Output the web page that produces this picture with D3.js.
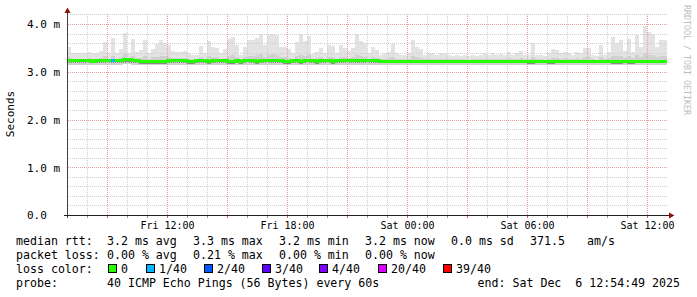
<!DOCTYPE html>
<html>
<head>
<meta charset="utf-8">
<script src="https://cdn.jsdelivr.net/npm/d3@7"></script>
<style>
  html, body { margin: 0; padding: 0; background: #fff; }
  svg { display: block; }
  text { font-family: "DejaVu Sans Mono", monospace; fill: #000; }
</style>
</head>
<body>
<div id="chart"></div>
<script>
// 30 hours of pings, consolidated into 12 minute bins (values in ms)
var startTime = new Date(2025, 11, 5, 7, 0);
var endTime = new Date(2025, 11, 6, 13, 0);
var binMinutes = 12;

var smokeMax = [
  3.52,3.39,3.40,3.40,3.40,3.42,3.39,3.39,3.44,3.62,
  3.39,3.71,3.39,3.47,3.82,3.39,3.69,3.41,3.46,3.67,
  3.39,3.47,3.58,3.67,3.60,3.55,3.44,3.41,3.41,3.43,
  3.39,3.36,3.36,3.54,3.40,3.65,3.52,3.50,3.39,3.48,
  3.68,3.72,3.55,3.36,3.52,3.67,3.67,3.71,3.80,3.55,
  3.78,3.80,3.76,3.52,3.52,3.47,3.39,3.62,3.80,3.64,
  3.75,3.37,3.41,3.50,3.39,3.55,3.54,3.39,3.55,3.50,
  3.44,3.50,3.79,3.64,3.60,3.39,3.52,3.46,3.36,3.39,
  3.41,3.58,3.39,3.36,3.36,3.39,3.67,3.52,3.48,3.36,
  3.39,3.39,3.36,3.39,3.39,3.36,3.34,3.36,3.34,3.36,
  3.33,3.36,3.34,3.36,3.39,3.36,3.39,3.36,3.37,3.36,
  3.41,3.36,3.39,3.43,3.36,3.36,3.60,3.36,3.36,3.33,
  3.39,3.47,3.46,3.39,3.41,3.39,3.36,3.41,3.39,3.50,
  3.50,3.36,3.33,3.55,3.36,3.41,3.72,3.60,3.67,3.43,
  3.69,3.41,3.76,3.52,3.96,3.83,3.80,3.51,3.67,3.67
];

var smokeHi = [
  3.30,3.27,3.27,3.27,3.27,3.28,3.27,3.27,3.29,3.32,
  3.27,3.33,3.27,3.30,3.38,3.27,3.33,3.28,3.29,3.33,
  3.27,3.30,3.31,3.33,3.32,3.31,3.29,3.28,3.28,3.28,
  3.27,3.26,3.26,3.30,3.27,3.33,3.30,3.30,3.27,3.29,
  3.33,3.35,3.31,3.26,3.30,3.34,3.33,3.35,3.37,3.31,
  3.36,3.37,3.35,3.30,3.30,3.29,3.27,3.32,3.36,3.33,
  3.35,3.27,3.28,3.30,3.27,3.31,3.30,3.27,3.31,3.30,
  3.28,3.30,3.35,3.32,3.31,3.27,3.30,3.28,3.26,3.27,
  3.28,3.31,3.27,3.26,3.26,3.27,3.32,3.30,3.29,3.26,
  3.27,3.27,3.26,3.27,3.27,3.26,3.26,3.26,3.26,3.26,
  3.25,3.26,3.26,3.26,3.27,3.26,3.27,3.26,3.27,3.26,
  3.28,3.26,3.27,3.28,3.26,3.26,3.31,3.26,3.26,3.25,
  3.27,3.29,3.29,3.27,3.28,3.27,3.26,3.28,3.27,3.30,
  3.30,3.26,3.25,3.31,3.26,3.28,3.34,3.32,3.33,3.28,
  3.33,3.28,3.35,3.30,3.38,3.36,3.35,3.30,3.33,3.33
];

var median = [
  3.23,3.23,3.23,3.23,3.23,3.23,3.22,3.23,3.23,3.23,
  3.23,3.23,3.23,3.23,3.25,3.25,3.23,3.23,3.21,3.21,
  3.21,3.21,3.21,3.21,3.21,3.23,3.23,3.23,3.23,3.23,
  3.21,3.21,3.23,3.23,3.23,3.21,3.23,3.23,3.23,3.23,
  3.21,3.21,3.23,3.21,3.23,3.23,3.23,3.21,3.23,3.23,
  3.23,3.23,3.23,3.23,3.21,3.21,3.23,3.23,3.21,3.23,
  3.23,3.23,3.21,3.23,3.23,3.23,3.21,3.23,3.23,3.23,
  3.23,3.23,3.23,3.23,3.23,3.23,3.23,3.23,3.22,3.22,
  3.22,3.22,3.22,3.22,3.22,3.22,3.22,3.22,3.22,3.22,
  3.22,3.22,3.22,3.22,3.22,3.22,3.22,3.22,3.22,3.22,
  3.22,3.22,3.22,3.22,3.22,3.22,3.22,3.22,3.22,3.22,
  3.22,3.22,3.22,3.22,3.22,3.21,3.21,3.22,3.22,3.22,
  3.21,3.21,3.22,3.22,3.22,3.22,3.22,3.22,3.22,3.22,
  3.22,3.22,3.22,3.22,3.22,3.22,3.21,3.21,3.21,3.22,
  3.21,3.21,3.22,3.22,3.22,3.22,3.22,3.22,3.22,3.22
];

var smokeLo = [
  3.18,3.18,3.18,3.18,3.18,3.18,3.18,3.18,3.18,3.18,
  3.18,3.18,3.18,3.18,3.19,3.19,3.18,3.18,3.17,3.17,
  3.17,3.17,3.17,3.17,3.17,3.18,3.18,3.18,3.18,3.18,
  3.17,3.17,3.18,3.18,3.18,3.17,3.18,3.18,3.18,3.18,
  3.17,3.17,3.18,3.17,3.18,3.18,3.18,3.17,3.18,3.18,
  3.18,3.18,3.18,3.18,3.17,3.17,3.18,3.18,3.17,3.18,
  3.18,3.18,3.17,3.18,3.18,3.18,3.17,3.18,3.18,3.18,
  3.18,3.18,3.18,3.18,3.18,3.18,3.18,3.18,3.18,3.18,
  3.18,3.18,3.18,3.18,3.18,3.18,3.18,3.18,3.18,3.18,
  3.18,3.18,3.18,3.18,3.18,3.18,3.18,3.18,3.18,3.18,
  3.18,3.18,3.18,3.18,3.18,3.18,3.18,3.18,3.18,3.18,
  3.18,3.18,3.18,3.18,3.18,3.17,3.17,3.18,3.18,3.18,
  3.17,3.17,3.18,3.18,3.18,3.18,3.18,3.18,3.18,3.18,
  3.18,3.18,3.18,3.18,3.18,3.18,3.17,3.17,3.17,3.18,
  3.17,3.17,3.18,3.18,3.18,3.18,3.18,3.18,3.18,3.18
];

var smokeMin = [
  3.15,3.15,3.15,3.15,3.15,3.15,3.15,3.15,3.15,3.15,
  3.15,3.15,3.15,3.15,3.16,3.16,3.15,3.15,3.14,3.14,
  3.14,3.14,3.14,3.14,3.14,3.15,3.15,3.15,3.15,3.15,
  3.14,3.14,3.15,3.15,3.15,3.14,3.15,3.15,3.15,3.15,
  3.14,3.14,3.15,3.14,3.15,3.15,3.15,3.14,3.15,3.15,
  3.15,3.15,3.15,3.15,3.14,3.14,3.15,3.15,3.14,3.15,
  3.15,3.15,3.14,3.15,3.15,3.15,3.14,3.15,3.15,3.15,
  3.15,3.15,3.15,3.15,3.15,3.15,3.15,3.15,3.15,3.15,
  3.15,3.15,3.15,3.15,3.15,3.15,3.15,3.15,3.15,3.15,
  3.15,3.15,3.15,3.15,3.15,3.15,3.15,3.15,3.15,3.15,
  3.15,3.15,3.15,3.15,3.15,3.15,3.15,3.15,3.15,3.15,
  3.15,3.15,3.15,3.15,3.15,3.14,3.14,3.15,3.15,3.15,
  3.14,3.14,3.15,3.15,3.15,3.15,3.15,3.15,3.15,3.15,
  3.15,3.15,3.15,3.15,3.15,3.15,3.14,3.14,3.14,3.15,
  3.14,3.14,3.15,3.15,3.15,3.15,3.15,3.15,3.15,3.15
];

// bins where pings were lost, and how many of the 40
var lossBins = [11];
var lossPings = [1];

var lossLabels = ["0", "1/40", "2/40", "3/40", "4/40", "20/40", "39/40"];
var lossColors = ["#26ff00", "#00b8ff", "#0059ff", "#5e00ff", "#7e00ff", "#dd00ff", "#ff0000"];

var yTicks = [0, 1, 2, 3, 4];

var legendRtt = ["3.2 ms avg", "3.3 ms max", "3.2 ms min", "3.2 ms now", "0.0 ms sd", "371.5", "am/s"];
var legendLoss = ["0.00 % avg", "0.21 % max", "0.00 % min", "0.00 % now"];

function main() {
    var width = 697, height = 297;
    var svg = d3.select("#chart")
        .append("svg")
        .attr("width", width)
        .attr("height", height);

    svg.append("rect").attr("width", width).attr("height", height).attr("fill", "#fff");

    var x = d3.scaleTime().domain([startTime, endTime]).range([67, 667]);
    var y = d3.scaleLinear().domain([0, 4.2]).range([215, 14.45]);

    // bin rows, plus a closing point so the last step has a width
    var rows = smokeMax.map(function (v, i) {
        return {
            t: d3.timeMinute.offset(startTime, i * binMinutes),
            max: v, hi: smokeHi[i], med: median[i], lo: smokeLo[i], min: smokeMin[i]
        };
    });
    rows.push(Object.assign({}, rows[rows.length - 1], { t: endTime }));

    var plot = svg.append("g").attr("shape-rendering", "crispEdges");

    // smoke
    var outer = d3.area().curve(d3.curveStepAfter)
        .x(function (d) { return x(d.t); })
        .y0(function (d) { return y(d.min); })
        .y1(function (d) { return y(d.max); });
    plot.append("path").datum(rows).attr("d", outer).attr("fill", "#e3e3e3");

    var mid = d3.area().curve(d3.curveStepAfter)
        .x(function (d) { return x(d.t); })
        .y0(function (d) { return y(d.min); })
        .y1(function (d) { return y(d.hi); });
    plot.append("path").datum(rows).attr("d", mid).attr("fill", "#d0d0d0");

    var inner = d3.area().curve(d3.curveStepAfter)
        .x(function (d) { return x(d.t); })
        .y0(function (d) { return y(d.lo); })
        .y1(function (d) { return y(d.med); });
    plot.append("path").datum(rows).attr("d", inner).attr("fill", "#8a8a8a");

    // grid
    var grid = svg.append("g").attr("shape-rendering", "crispEdges");
    var hours = d3.timeHour.every(1).range(startTime, endTime).filter(function (t) { return x(t) > 68; });
    hours.forEach(function (t) {
        var major = t.getHours() % 3 === 0;
        var px = Math.round(x(t)) + 0.5;
        grid.append("line")
            .attr("x1", px).attr("x2", px).attr("y1", 14).attr("y2", 215)
            .attr("stroke", major ? "#e9a0a0" : "#cfcfcf")
            .attr("stroke-dasharray", "1,1");
    });
    d3.range(1, 22).forEach(function (k) {
        var v = k * 0.2;
        var major = k % 5 === 0;
        var py = Math.round(y(v)) + 0.5;
        grid.append("line")
            .attr("x1", 68).attr("x2", 668).attr("y1", py).attr("y2", py)
            .attr("stroke", major ? "#e9a0a0" : "#cfcfcf")
            .attr("stroke-dasharray", "1,1");
    });

    // median line, coloured by loss
    var medG = svg.append("g").attr("shape-rendering", "crispEdges");
    var medLine = d3.line().curve(d3.curveStepAfter)
        .x(function (d) { return x(d.t); })
        .y(function (d) { return y(d.med); });
    medG.append("path").datum(rows).attr("d", medLine)
        .attr("fill", "none").attr("stroke", lossColors[0]).attr("stroke-width", 3);
    lossBins.forEach(function (b, k) {
        var seg = [rows[b], rows[b + 1]];
        medG.append("path").datum(seg)
            .attr("d", d3.line().x(function (d) { return x(d.t); }).y(function () { return y(rows[b].med); }))
            .attr("fill", "none").attr("stroke", lossColors[lossPings[k]]).attr("stroke-width", 3);
    });

    // axes
    var axisG = svg.append("g").attr("shape-rendering", "crispEdges");
    axisG.append("line").attr("x1", 67.5).attr("x2", 67.5).attr("y1", 11).attr("y2", 218).attr("stroke", "#404040");
    axisG.append("line").attr("x1", 64).attr("x2", 670).attr("y1", 215.5).attr("y2", 215.5).attr("stroke", "#202020");
    svg.append("path").attr("d", "M64.5,13L70.5,13L67.5,7.5Z").attr("fill", "#8b1010");
    svg.append("path").attr("d", "M669,212.5L669,218.5L674.5,215.5Z").attr("fill", "#8b1010");

    // small ticks on the axes
    hours.forEach(function (t) {
        var px = Math.round(x(t)) + 0.5;
        axisG.append("line").attr("x1", px).attr("x2", px).attr("y1", 216).attr("y2", 218)
            .attr("stroke", t.getHours() % 3 === 0 ? "#d06060" : "#999");
    });

    var xAxis = d3.axisBottom(x)
        .ticks(d3.timeHour.every(6))
        .tickFormat(d3.timeFormat("%a %H:%M"))
        .tickSize(0);
    var gx = svg.append("g").attr("transform", "translate(0,219)").call(xAxis);
    gx.select(".domain").remove();
    gx.selectAll("text")
        .attr("dy", 0).attr("y", 10)
        .style("font-family", "DejaVu Sans Mono").style("font-size", "10px").attr("fill", "#000");

    var yAxis = d3.axisLeft(y)
        .tickValues(yTicks)
        .tickFormat(function (d) { return d === 0 ? "0.0" : d.toFixed(1) + " m"; })
        .tickSize(0);
    var gy = svg.append("g").attr("transform", "translate(27,0)").call(yAxis);
    gy.select(".domain").remove();
    gy.selectAll("text")
        .attr("x", 0).attr("dy", "0.35em")
        .attr("text-anchor", "start")
        .style("font-family", "DejaVu Sans Mono").style("font-size", "11px").attr("fill", "#000");

    svg.append("text")
        .attr("transform", "translate(14,114) rotate(-90)")
        .attr("text-anchor", "middle")
        .style("font-size", "11px")
        .text("Seconds");

    svg.append("text")
        .attr("transform", "translate(684,60) rotate(90)")
        .attr("text-anchor", "middle")
        .style("font-size", "8.3px")
        .style("fill", "#bdbdbd")
        .text("RRDTOOL / TOBI OETIKER");

    // legend
    var lg = svg.append("g").style("font-size", "11.6px").attr("xml:space", "preserve");
    var colX = [107, 193, 279, 365, 451, 530, 587];
    lg.append("text").attr("x", 16).attr("y", 245).text("median rtt:");
    legendRtt.forEach(function (s, i) {
        lg.append("text").attr("x", colX[i]).attr("y", 245).text(s);
    });
    lg.append("text").attr("x", 16).attr("y", 259).text("packet loss:");
    legendLoss.forEach(function (s, i) {
        lg.append("text").attr("x", colX[i]).attr("y", 259).text(s);
    });
    lg.append("text").attr("x", 16).attr("y", 273).text("loss color:");
    var boxX = [108, 146, 204, 262, 319, 378, 443];
    lossLabels.forEach(function (s, i) {
        lg.append("rect").attr("x", boxX[i] + 0.5).attr("y", 264.5).attr("width", 8).attr("height", 8)
            .attr("fill", lossColors[i]).attr("stroke", "#000").attr("stroke-width", 1);
        lg.append("text").attr("x", boxX[i] + 13).attr("y", 273).text(s);
    });
    lg.append("text").attr("x", 16).attr("y", 287).text("probe:");
    lg.append("text").attr("x", 107).attr("y", 287).text("40 ICMP Echo Pings (56 Bytes) every 60s");
    lg.append("text").attr("x", 680).attr("y", 287).attr("text-anchor", "end")
        .style("white-space", "pre")
        .text("end: Sat Dec  6 12:54:49 2025");
}

main();
</script>
</body>
</html>
